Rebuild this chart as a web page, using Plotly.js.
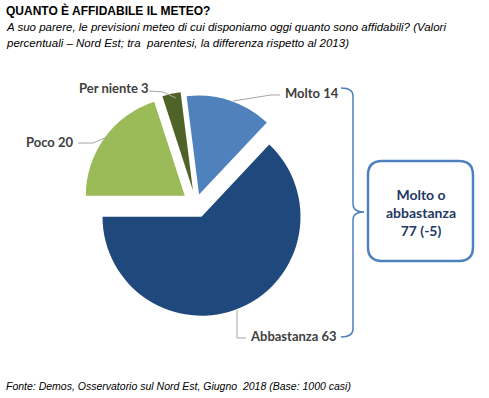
<!DOCTYPE html>
<html><head><meta charset="utf-8">
<script src="https://cdn.plot.ly/plotly-3.0.1.min.js"></script>
<style>html,body{margin:0;padding:0;background:#fff;}#chart{width:489px;height:398px;}</style>
</head><body><div id="chart"></div>
<script>
const categories = ['Molto', 'Abbastanza', 'Poco', 'Per niente'];
const values = [14, 63, 20, 3];
const summaryLines = ['Molto o', 'abbastanza'];
const summaryValue = 77;
const summaryChange = -5;
const titleText = 'QUANTO È AFFIDABILE IL METEO?';
const subtitleLines = ['A suo parere, le previsioni meteo di cui disponiamo oggi quanto sono affidabili? (Valori',
  'percentuali – Nord Est; tra  parentesi, la differenza rispetto al 2013)'];
const sourceText = 'Fonte: Demos, Osservatorio sul Nord Est, Giugno  2018 (Base: 1000 casi)';

const W = 489, H = 398;
const px = x => x / W;
const py = y => 1 - y / H;
function path(cmds) {
  return cmds.map(c => c[0] + ' ' + c.slice(1).map((v, i) => i % 2 === 0 ? px(v).toFixed(5) : py(v).toFixed(5)).join(' ')).join(' ');
}

// pie geometry (pixels)
const cx = 196, cy = 204, r = 99, maxPull = 0.14;
const half = r * (1 + maxPull);

const trace = {
  type: 'pie',
  labels: categories,
  values: values,
  sort: false,
  direction: 'clockwise',
  rotation: -7.2,
  pull: [0.10, 0.14, 0.14, 0.14],
  textinfo: 'none',
  hoverinfo: 'skip',
  showlegend: false,
  marker: { colors: ['#4f81bd', '#1f497d', '#9bbb59', '#4f6228'], line: { width: 0 } },
  domain: { x: [px(cx - half), px(cx + half)], y: [py(cy + half), py(cy - half)] }
};

const labelFont = { family: 'Lato, "Noto Sans", sans-serif', size: 13, color: '#404040', weight: 'bold' };
const labelPos = [
  { x: 283, y: 93, anchor: 'left' },
  { x: 248, y: 336, anchor: 'left' },
  { x: 76, y: 142, anchor: 'right' },
  { x: 77, y: 88, anchor: 'left' }
];
const annotations = categories.map((c, i) => ({
  xref: 'paper', yref: 'paper', x: px(labelPos[i].x), y: py(labelPos[i].y),
  xanchor: labelPos[i].anchor, yanchor: 'middle', showarrow: false,
  text: '<b>' + c + ' ' + values[i] + '</b>', font: labelFont
}));

const arial = 'Arial, "Liberation Sans", sans-serif';
annotations.push(
  { xref: 'paper', yref: 'paper', x: px(4), y: py(10), xanchor: 'left', yanchor: 'middle', showarrow: false,
    text: '<b>' + titleText + '</b>', font: { family: arial, size: 12, color: '#000' } },
  { xref: 'paper', yref: 'paper', x: px(4), y: py(27), xanchor: 'left', yanchor: 'middle', showarrow: false,
    text: '<i>' + subtitleLines[0] + '</i>', font: { family: arial, size: 11.5, color: '#000' } },
  { xref: 'paper', yref: 'paper', x: px(4), y: py(43), xanchor: 'left', yanchor: 'middle', showarrow: false,
    text: '<i>' + subtitleLines[1] + '</i>', font: { family: arial, size: 11.5, color: '#000' } },
  { xref: 'paper', yref: 'paper', x: px(4), y: py(386), xanchor: 'left', yanchor: 'middle', showarrow: false,
    text: '<i>' + sourceText + '</i>', font: { family: arial, size: 10.5, color: '#000' } },
  { xref: 'paper', yref: 'paper', x: px(420.5), y: py(212), xanchor: 'center', yanchor: 'middle', showarrow: false,
    text: '<b>' + summaryLines.join('<br>') + '<br>' + summaryValue + ' (' + summaryChange + ')</b>',
    font: { family: 'Lato, "Noto Sans", sans-serif', size: 14, color: '#1f3864' } }
);

const lineStyle = { color: '#a6a6a6', width: 1 };
const blue = '#4f81bd';
const bx0 = 368, bx1 = 473, by0 = 161, by1 = 261, rr = 14;
const shapes = [
  { type: 'path', xref: 'paper', yref: 'paper', line: lineStyle, path: path([['M', 233, 101], ['L', 271, 95], ['L', 280, 95]]) },
  { type: 'path', xref: 'paper', yref: 'paper', line: lineStyle, path: path([['M', 237, 310], ['L', 237, 338], ['L', 246, 338]]) },
  { type: 'path', xref: 'paper', yref: 'paper', line: lineStyle, path: path([['M', 78, 143], ['L', 93, 143], ['L', 107, 137]]) },
  { type: 'path', xref: 'paper', yref: 'paper', line: lineStyle, path: path([['M', 149, 91], ['L', 163, 92], ['L', 176, 98]]) },
  // brace
  { type: 'path', xref: 'paper', yref: 'paper', line: { color: blue, width: 1.5 },
    path: path([['M', 341, 88], ['Q', 353, 88, 353, 96], ['L', 353, 204], ['Q', 353, 212, 364, 212],
                ['Q', 353, 212, 353, 220], ['L', 353, 329], ['Q', 353, 337, 341, 337]]) },
  // rounded box
  { type: 'path', xref: 'paper', yref: 'paper', line: { color: blue, width: 2.5 }, fillcolor: '#fff',
    path: path([['M', bx0 + rr, by0], ['L', bx1 - rr, by0], ['Q', bx1, by0, bx1, by0 + rr], ['L', bx1, by1 - rr],
                ['Q', bx1, by1, bx1 - rr, by1], ['L', bx0 + rr, by1], ['Q', bx0, by1, bx0, by1 - rr],
                ['L', bx0, by0 + rr], ['Q', bx0, by0, bx0 + rr, by0]]) + ' Z' }
];

const layout = {
  width: W, height: H,
  margin: { l: 0, r: 0, t: 0, b: 0 },
  paper_bgcolor: '#fff',
  showlegend: false,
  annotations: annotations,
  shapes: shapes
};
Plotly.newPlot('chart', [trace], layout, { staticPlot: true, displayModeBar: false });
</script></body></html>
